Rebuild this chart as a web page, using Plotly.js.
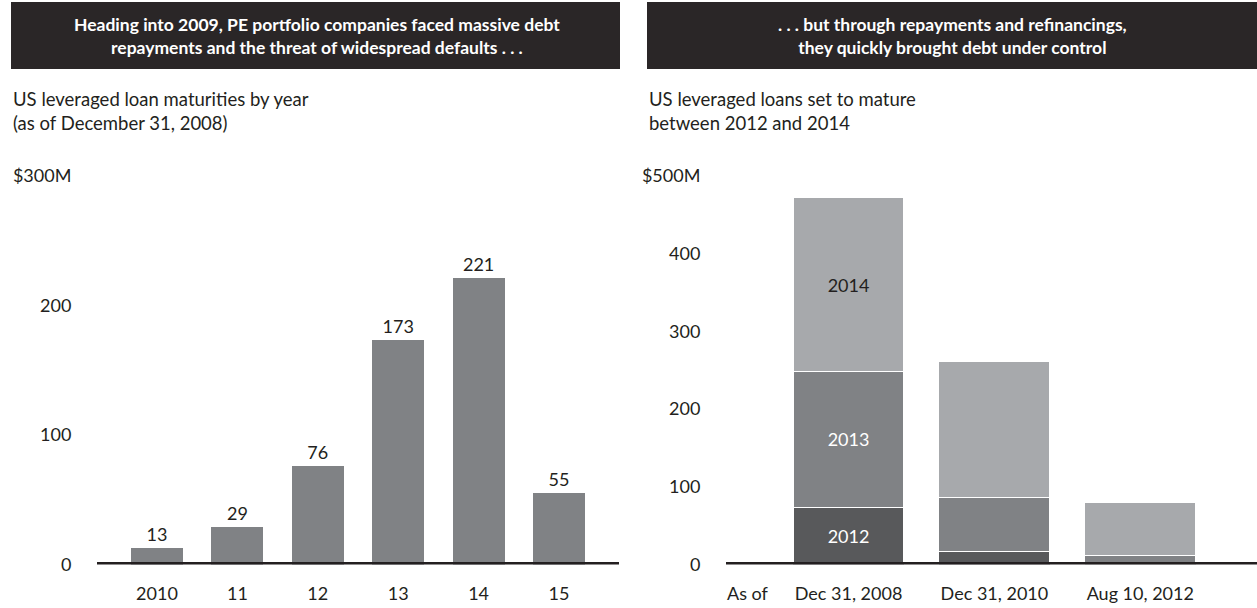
<!DOCTYPE html>
<html>
<head>
<meta charset="utf-8">
<script src="https://cdn.plot.ly/plotly-3.0.1.min.js"></script>
<style>html,body{margin:0;padding:0;background:#fff;}#chart{width:1257px;height:608px;}</style>
</head>
<body>
<div id="chart"></div>
<script>
// Left panel data
const leftYears = ['2010', '11', '12', '13', '14', '15'];
const leftValues = [13, 29, 76, 173, 221, 55];
const leftTickVals = [0, 100, 200, 300];
const leftTickText = ['0', '100', '200', '$300M'];

// Right panel data
const rightDates = ['Dec 31, 2008', 'Dec 31, 2010', 'Aug 10, 2012'];
const mature2012 = [74, 17, 0];
const mature2013 = [174, 69, 11];
const mature2014 = [224, 175, 69];
const rightSeriesNames = ['2012', '2013', '2014'];
const rightTickVals = [0, 100, 200, 300, 400, 500];
const rightTickText = ['0', '100', '200', '300', '400', '$500M'];

const W = 1257, H = 608;
const px = v => v / W;
const py = v => 1 - v / H;
const FONT = 'Lato, "Open Sans", sans-serif';
const INK = '#231f20';
const FS = 18;

const traces = [
  {
    type: 'bar', x: leftYears, y: leftValues, xaxis: 'x', yaxis: 'y',
    width: 0.647,
    marker: {color: '#808285', line: {width: 0}},
    text: leftValues.map(String), textposition: 'outside', cliponaxis: false,
    textfont: {family: FONT, size: FS, color: INK},
    hoverinfo: 'x+y'
  }
];
const segColors = ['#58595b', '#808285', '#a7a9ac'];
const segText = ['#ffffff', '#ffffff', INK];
[mature2012, mature2013, mature2014].forEach((vals, i) => {
  traces.push({
    type: 'bar', x: rightDates, y: vals, xaxis: 'x2', yaxis: 'y2',
    name: rightSeriesNames[i], width: 0.76,
    marker: {color: segColors[i], line: {color: '#ffffff', width: 1}},
    text: rightDates.map((d, j) => j === 0 ? rightSeriesNames[i] : ''),
    textposition: 'inside', insidetextanchor: 'middle',
    textfont: {family: FONT, size: FS, color: segText[i]},
    constraintext: 'none',
    hoverinfo: 'name+y'
  });
});

const yDomain = [py(564.5), py(176)];
const axisFont = {family: FONT, size: FS, color: INK};

const layout = {
  width: W, height: H,
  margin: {l: 0, r: 0, t: 0, b: 0},
  paper_bgcolor: '#ffffff', plot_bgcolor: 'rgba(0,0,0,0)',
  showlegend: false, barmode: 'stack',
  font: {family: FONT, color: INK},
  xaxis: {
    domain: [px(97), px(619)], type: 'category', range: [-0.746, 5.746],
    showgrid: false, zeroline: false, showline: false,
    ticks: 'outside', ticklen: 13, tickcolor: 'rgba(0,0,0,0)',
    tickfont: axisFont, fixedrange: true
  },
  yaxis: {
    domain: yDomain, range: [0, 300],
    tickvals: leftTickVals, ticktext: leftTickText,
    showgrid: false, zeroline: false, showline: false,
    ticks: 'outside', ticklen: 21, tickcolor: 'rgba(0,0,0,0)',
    tickfont: axisFont, fixedrange: true
  },
  xaxis2: {
    domain: [px(726), 1], type: 'category', range: [-0.84, 2.80],
    anchor: 'y2',
    showgrid: false, zeroline: false, showline: false,
    ticks: 'outside', ticklen: 13, tickcolor: 'rgba(0,0,0,0)',
    tickfont: axisFont, fixedrange: true
  },
  yaxis2: {
    domain: yDomain, range: [0, 500], anchor: 'x2',
    tickvals: rightTickVals, ticktext: rightTickText,
    showgrid: false, zeroline: false, showline: false,
    ticks: 'outside', ticklen: 21, tickcolor: 'rgba(0,0,0,0)',
    tickfont: axisFont, fixedrange: true
  },
  shapes: [
    {type: 'rect', xref: 'paper', yref: 'paper', x0: px(11), x1: px(620), y0: py(69), y1: py(2),
     fillcolor: '#2a2627', line: {width: 0}, layer: 'below'},
    {type: 'rect', xref: 'paper', yref: 'paper', x0: px(647), x1: 1, y0: py(69), y1: py(2),
     fillcolor: '#2a2627', line: {width: 0}, layer: 'below'},
    {type: 'line', xref: 'x domain', yref: 'y', x0: 0, x1: 1, y0: 0, y1: 0,
     line: {color: INK, width: 5}, layer: 'above'},
    {type: 'line', xref: 'x2 domain', yref: 'y2', x0: 0, x1: 1, y0: 0, y1: 0,
     line: {color: INK, width: 5}, layer: 'above'}
  ],
  annotations: [
    {xref: 'paper', yref: 'paper', x: px(317), y: py(35.5), xanchor: 'center', yanchor: 'middle',
     text: '<b>Heading into 2009, PE portfolio companies faced massive debt<br>repayments and the threat of widespread defaults . . .</b>',
     showarrow: false, align: 'center', font: {family: FONT, size: 17.5, color: '#ffffff'}},
    {xref: 'paper', yref: 'paper', x: px(952), y: py(35.5), xanchor: 'center', yanchor: 'middle',
     text: '<b>. . . but through repayments and refinancings,<br>they quickly brought debt under control</b>',
     showarrow: false, align: 'center', font: {family: FONT, size: 17.5, color: '#ffffff'}},
    {xref: 'paper', yref: 'paper', x: px(11), y: py(86), xanchor: 'left', yanchor: 'top',
     text: 'US leveraged loan maturities by year<br>(as of December 31, 2008)',
     showarrow: false, align: 'left', font: {family: FONT, size: 18.5, color: INK}},
    {xref: 'paper', yref: 'paper', x: px(647), y: py(86), xanchor: 'left', yanchor: 'top',
     text: 'US leveraged loans set to mature<br>between 2012 and 2014',
     showarrow: false, align: 'left', font: {family: FONT, size: 18.5, color: INK}},
    {xref: 'paper', yref: 'paper', x: px(725), y: py(593), xanchor: 'left', yanchor: 'middle',
     text: 'As of', showarrow: false, font: {family: FONT, size: FS, color: INK}}
  ]
};

Plotly.newPlot('chart', traces, layout, {displayModeBar: false, staticPlot: true});
</script>
</body>
</html>
